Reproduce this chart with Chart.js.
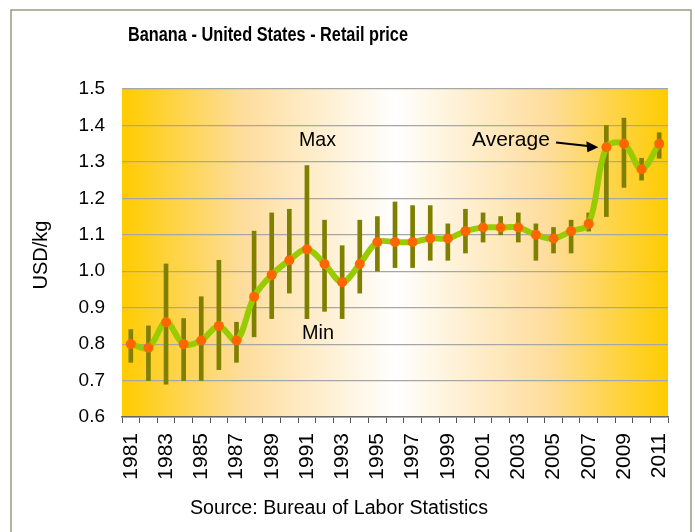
<!DOCTYPE html>
<html>
<head>
<meta charset="utf-8">
<script src="https://cdn.jsdelivr.net/npm/chart.js@4.4.1/dist/chart.umd.min.js"></script>
<style>
  html, body { margin: 0; padding: 0; background: #fff; }
  #wrap { width: 695px; height: 532px; }
</style>
</head>
<body>
<div id="wrap"><canvas id="myChart" width="695" height="532"></canvas></div>
<script>
// years on the x axis
const years = ['1981','1982','1983','1984','1985','1986','1987','1988','1989','1990',
  '1991','1992','1993','1994','1995','1996','1997','1998','1999','2000',
  '2001','2002','2003','2004','2005','2006','2007','2008','2009','2010','2011'];

// yearly average retail price, USD/kg
const avgPrice = [0.80, 0.79, 0.86, 0.80, 0.81, 0.85, 0.81, 0.93, 0.99, 1.03,
  1.06, 1.02, 0.97, 1.02, 1.08, 1.08, 1.08, 1.09, 1.09, 1.11,
  1.12, 1.12, 1.12, 1.10, 1.09, 1.11, 1.13, 1.34, 1.35, 1.28, 1.35];

// monthly min and max within each year
const minPrice = [0.75, 0.70, 0.69, 0.70, 0.70, 0.73, 0.75, 0.82, 0.87, 0.94,
  0.87, 0.89, 0.87, 0.94, 1.00, 1.01, 1.01, 1.03, 1.03, 1.05,
  1.08, 1.10, 1.08, 1.03, 1.05, 1.05, 1.11, 1.15, 1.23, 1.25, 1.31];
const maxPrice = [0.84, 0.85, 1.02, 0.87, 0.93, 1.03, 0.86, 1.11, 1.16, 1.17,
  1.29, 1.14, 1.07, 1.14, 1.15, 1.19, 1.18, 1.18, 1.13, 1.17,
  1.16, 1.15, 1.16, 1.13, 1.12, 1.14, 1.16, 1.40, 1.42, 1.31, 1.38];

const yTicks = [0.6, 0.7, 0.8, 0.9, 1.0, 1.1, 1.2, 1.3, 1.4, 1.5];

const chartTitle = 'Banana - United States - Retail price';
const yTitle = 'USD/kg';
const sourceText = 'Source: Bureau of Labor Statistics';

const FONT = '"Liberation Sans", Arial, sans-serif';

// white page, frame and the gold-white-gold fill of the plot area
const backdrop = {
  id: 'backdrop',
  beforeDraw(chart) {
    const { ctx, chartArea: a } = chart;
    ctx.save();
    ctx.fillStyle = '#ffffff';
    ctx.fillRect(0, 0, chart.width, chart.height);
    ctx.strokeStyle = '#9a9a80';
    ctx.lineWidth = 1.5;
    ctx.strokeRect(11, 10, 680, 600);
    const g = ctx.createLinearGradient(a.left, 0, a.right, 0);
    g.addColorStop(0, '#ffcc00');
    g.addColorStop(0.22, '#fedd9c');
    g.addColorStop(0.5, '#ffffff');
    g.addColorStop(0.78, '#fedd9c');
    g.addColorStop(1, '#ffcc00');
    ctx.fillStyle = g;
    ctx.fillRect(a.left, a.top, a.right - a.left, a.bottom - a.top);
    ctx.restore();
  }
};

// title, axis title, source line and the Max / Min / Average notes
const labels = {
  id: 'labels',
  afterDraw(chart) {
    const { ctx } = chart;
    const x = chart.scales.x, y = chart.scales.y;
    ctx.save();
    ctx.fillStyle = '#000';
    ctx.textBaseline = 'middle';
    ctx.textAlign = 'center';
    ctx.font = 'bold 20px ' + FONT;
    ctx.fillText(chartTitle, 268, 35, 280);
    ctx.font = '20px ' + FONT;
    ctx.fillText(sourceText, 339, 508, 298);

    ctx.save();
    ctx.translate(41, 255);
    ctx.rotate(-Math.PI / 2);
    ctx.font = '20px ' + FONT;
    ctx.fillText(yTitle, 0, 0, 74);
    ctx.restore();

    ctx.font = '21px ' + FONT;
    ctx.textAlign = 'left';
    const i91 = years.indexOf('1991');
    ctx.fillText('Max', x.getPixelForValue(i91) - 8, y.getPixelForValue(1.36), 37);
    ctx.fillText('Min', x.getPixelForValue(i91) - 5, y.getPixelForValue(0.83), 32);

    const i08 = years.indexOf('2008');
    const tipX = x.getPixelForValue(i08) - 8, tipY = y.getPixelForValue(avgPrice[i08]);
    ctx.fillText('Average', 472, y.getPixelForValue(1.36), 84);
    ctx.strokeStyle = '#000';
    ctx.lineWidth = 2;
    ctx.beginPath();
    ctx.moveTo(556, y.getPixelForValue(1.353));
    ctx.lineTo(tipX - 8, tipY - 1);
    ctx.stroke();
    ctx.beginPath();
    ctx.moveTo(tipX, tipY);
    ctx.lineTo(tipX - 12, tipY - 6);
    ctx.lineTo(tipX - 11, tipY + 5);
    ctx.closePath();
    ctx.fill();
    ctx.restore();
  }
};

const ctx = document.getElementById('myChart').getContext('2d');
const chart = new Chart(ctx, {
  type: 'bar',
  data: {
    labels: years,
    datasets: [
      {
        type: 'line',
        label: 'Average',
        data: avgPrice,
        borderColor: '#99cc00',
        borderWidth: 6,
        tension: 0.35,
        pointRadius: 5,
        pointBackgroundColor: '#ff6600',
        pointBorderWidth: 0,
        order: 0
      },
      {
        label: 'Min-Max',
        data: years.map((yr, i) => [minPrice[i], maxPrice[i]]),
        backgroundColor: '#7f7f00',
        barThickness: 4,
        order: 1
      }
    ]
  },
  options: {
    responsive: false,
    animation: false,
    layout: { padding: { top: 89, right: 27, bottom: 0, left: 0 } },
    plugins: {
      legend: { display: false },
      title: { display: false },
      tooltip: { enabled: false }
    },
    scales: {
      x: {
        offset: true,
        grid: { display: true, drawOnChartArea: false, offset: true, tickLength: 6, color: '#555' },
        border: { display: true, color: '#666', width: 1.5 },
        ticks: {
          autoSkip: false, maxRotation: 90, minRotation: 90, padding: 10,
          color: '#000', font: { family: FONT, size: 21 },
          callback: (v, i) => (i % 2 === 0 ? years[i] : '')
        },
        afterFit: (s) => { s.height = 115; }
      },
      y: {
        min: 0.6,
        max: 1.5,
        afterBuildTicks: (s) => { s.ticks = yTicks.map(v => ({ value: v })); },
        grid: { color: '#a6a6a6', lineWidth: 1.2, drawTicks: false },
        border: { display: false },
        ticks: {
          padding: 17, color: '#000', font: { family: FONT, size: 19 },
          callback: (v) => Number(v).toFixed(1)
        },
        afterFit: (s) => { s.width = 122; }
      }
    }
  },
  plugins: [backdrop, labels]
});
</script>
</body>
</html>
